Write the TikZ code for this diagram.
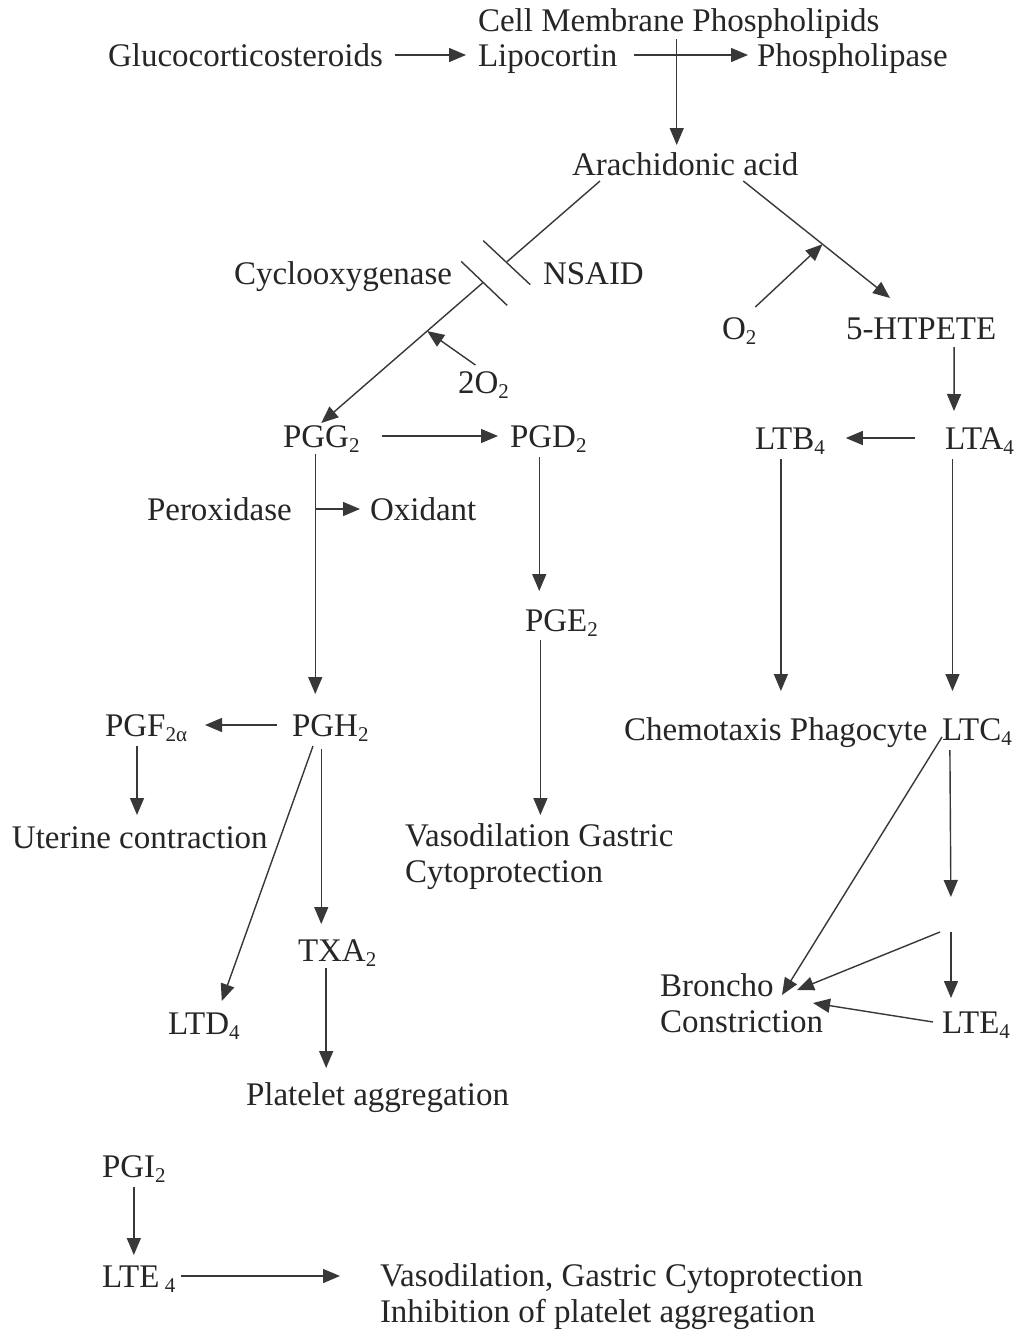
\documentclass[tikz,border=0pt]{standalone}
\usepackage{fontspec}
\setmainfont{Liberation Serif}
\usetikzlibrary{arrows.meta,calc}
\newcommand\lsb[1]{\raisebox{-5pt}{\fontsize{21}{21}\selectfont #1}}
\begin{document}
\begin{tikzpicture}[x=1pt,y=-1pt,
  basic/.style={inner sep=0pt, outer sep=0pt, text=black!85, font=\fontsize{33}{36}\selectfont},
  lbl/.style={basic, anchor=base west, text height=24pt, text depth=2pt},
  mlbl/.style={basic, anchor=north west, align=left},
  ln/.style={draw=black!78, line width=1.4pt},
  arr/.style={ln, -{Triangle[length=17pt,width=14pt]}},
]
\fill[white] (0,0) rectangle (1022,1331);
\useasboundingbox (0,0) rectangle (1022,1331);

% nodes
\node[lbl] (cell) at (478,31) {Cell Membrane Phospholipids};
\node[lbl] (glu) at (108,66) {Glucocorticosteroids};
\node[lbl] (lipo) at (478,66) {Lipocortin};
\node[lbl] (phos) at (757,66) {Phospholipase};
\node[lbl] (arach) at (572,175) {Arachidonic acid};
\node[lbl] (cox) at (234,284) {Cyclooxygenase};
\node[lbl] (nsaid) at (543,284) {NSAID};
\node[lbl] (twoO) at (458,393) {2O\lsb{2}};
\node[lbl] (otwo) at (722,339) {O\lsb{2}};
\node[lbl] (hte) at (846,339) {5-HTPETE};
\node[lbl] (pgg) at (283,447) {PGG\lsb{2}};
\node[lbl] (pgd) at (510,447) {PGD\lsb{2}};
\node[lbl] (ltb) at (755,449) {LTB\lsb{4}};
\node[lbl] (lta) at (945,449) {LTA\lsb{4}};
\node[lbl] (perox) at (147,520) {Peroxidase};
\node[lbl] (oxid) at (370,520) {Oxidant};
\node[lbl] (pge) at (525,631) {PGE\lsb{2}};
\node[lbl] (pgf) at (105,736) {PGF\lsb{2α}};
\node[lbl] (pgh) at (292,736) {PGH\lsb{2}};
\node[lbl] (chemo) at (624,740) {Chemotaxis Phagocyte};
\node[lbl] (ltc) at (942,740) {LTC\lsb{4}};
\node[lbl] (uter) at (12,848) {Uterine contraction};
\node[mlbl] (vaso) at (405,824) {Vasodilation Gastric\\Cytoprotection};
\node[lbl] (txa) at (298,961) {TXA\lsb{2}};
\node[lbl] (ltd) at (168,1034) {LTD\lsb{4}};
\node[mlbl] (bron) at (660,974) {Broncho\\Constriction};
\node[lbl] (lte) at (942,1033) {LTE\lsb{4}};
\node[lbl] (plat) at (246,1105) {Platelet aggregation};
\node[lbl] (pgi) at (102,1177) {PGI\lsb{2}};
\node[lbl] (lteb) at (102,1287) {LTE\,\lsb{4}};
\node[mlbl] (eff) at (380,1264) {Vasodilation, Gastric Cytoprotection\\Inhibition of platelet aggregation};

% top row
\draw[arr] ($(glu.east)+(12,0)$) -- ($(lipo.west)+(-12,0)$);
\draw[arr] ($(lipo.east)+(17,0)$) -- ($(phos.west)+(-9,0)$);
\draw[arr, shorten >=6pt] ($(cell.south)+(-2,6)$) coordinate (c0) -- (c0 |- arach.north);

% cyclooxygenase branch with NSAID block
\coordinate (aS) at ($(arach.south west)+(28,4)$);
\coordinate (pN) at (pgg.north);
\path (aS) -- (pN) coordinate[pos=0.333] (brk1) coordinate[pos=0.419] (brk2) coordinate[pos=0.62] (hitA);
\draw[ln] (aS) -- (brk1);
\draw[arr] (brk2) -- (pN);
\draw[ln] ($(brk1)+(-24,-21)$) -- ($(brk1)+(23,23)$);
\draw[ln] ($(brk2)+(-22,-21)$) -- ($(brk2)+(24,23)$);
\draw[arr] ($(twoO.north)+(-8,-4)$) -- (hitA);

% lipoxygenase branch
\coordinate (aE) at ($(arach.south east)+(-55,4)$);
\coordinate (hN) at ($(hte.north west)+(44,-17)$);
\path (aE) -- (hN) coordinate[pos=0.54] (hitB);
\draw[arr] (aE) -- (hN);
\draw[arr] ($(otwo.north east)+(-1,-8)$) -- (hitB);
\draw[arr] ($(hte.south)+(33,6)$) -- ($(lta.north west)+(9,-14)$);
\draw[arr] ($(lta.west)+(-30,0)$) -- ($(ltb.east)+(21,0)$);

% PGG2 paths
\draw[arr] ($(pgg.east)+(22,0)$) -- ($(pgd.west)+(-12,0)$);
\draw[arr, shorten >=18pt] ($(pgg.south)+(-6,5)$) coordinate (g1) -- (g1 |- pgh.north);
\draw[arr] (g1 |- oxid.west) -- ($(oxid.west)+(-10,0)$);
\draw[arr, shorten >=16pt] ($(pgd.south)+(-9,8)$) coordinate (d1) -- (d1 |- pge.north);
\draw[arr, shorten >=9pt] ($(pge.south)+(-21,7)$) coordinate (e1) -- (e1 |- vaso.north);

% PGH2 paths
\draw[arr] ($(pgh.west)+(-15,0)$) -- ($(pgf.east)+(18,0)$);
\draw[arr, shorten >=9pt] ($(pgf.south)+(-9,8)$) coordinate (f1) -- (f1 |- uter.north);
\draw[arr] ($(pgh.south west)+(21,8)$) -- ($(ltd.north)+(18,-9)$);
\draw[arr, shorten >=13pt] ($(pgh.south)+(-9,11)$) coordinate (h1) -- (h1 |- txa.north);
\draw[arr, shorten >=13pt] ($(txa.south)+(-11,5)$) coordinate (t1) -- (t1 |- plat.north);

% leukotriene paths
\draw[arr, shorten >=25pt] ($(ltb.south)+(-9,8)$) coordinate (b1) -- (b1 |- chemo.north);
\draw[arr, shorten >=25pt] ($(lta.south)+(-27,8)$) coordinate (a1) -- (a1 |- ltc.north);
\draw[arr] ($(ltc.south west)+(0,-5)$) -- ($(bron.north west)+(122,21)$);
\coordinate (ltdR) at (951,915);
\draw[arr, shorten >=18pt] ($(ltc.south)+(-27,8)$) -- (ltdR);
\draw[arr] ($(ltdR)+(0,17)$) -- ($(lte.north west)+(9,-11)$);
\draw[arr] ($(ltdR)+(-11,17)$) -- ($(bron.north west)+(137,16)$);
\draw[arr] ($(lte.west)+(-9,0)$) -- ($(bron.north west)+(153,29)$);

% bottom
\draw[arr, shorten >=8pt] ($(pgi.south)+(0,8)$) coordinate (p1) -- (p1 |- lteb.north);
\draw[arr] ($(lteb.east)+(6,0)$) -- ($(lteb.east -| eff.west)+(-40,0)$);
\end{tikzpicture}
\end{document}
